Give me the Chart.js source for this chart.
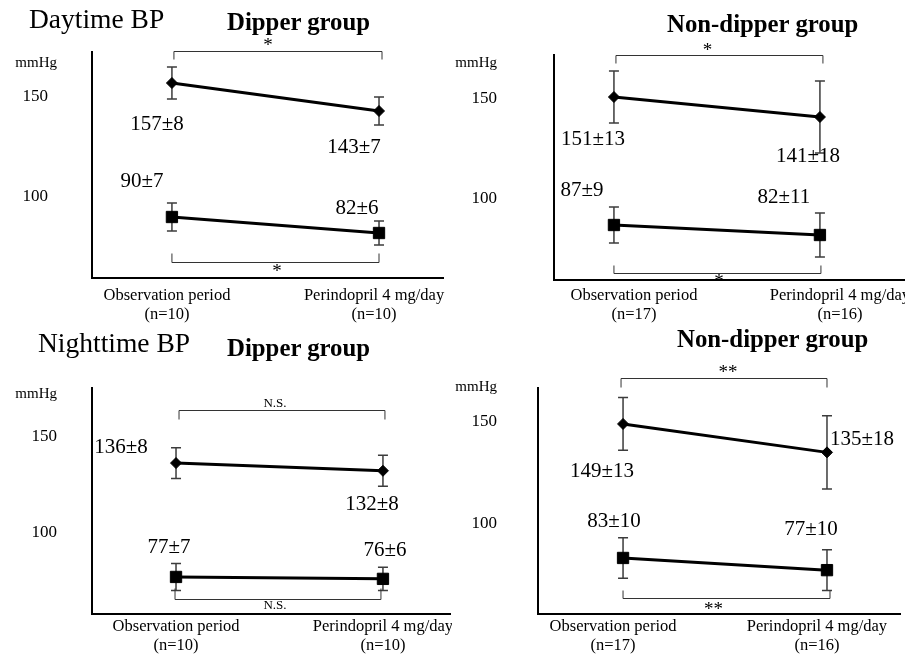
<!DOCTYPE html>
<html><head><meta charset="utf-8">
<script src="https://cdn.jsdelivr.net/npm/chart.js@4/dist/chart.umd.min.js"></script>
<style>
html,body{margin:0;padding:0;background:#fff;}
body{width:905px;height:656px;position:relative;overflow:hidden;font-family:"Liberation Serif","Times New Roman",serif;}
canvas{position:absolute;}
.t{position:absolute;white-space:nowrap;line-height:1;color:#000;}
.b{font-weight:bold;}
</style></head><body>
<canvas id="c1" width="452" height="330" style="left:0;top:0"></canvas>
<canvas id="c2" width="453" height="330" style="left:452px;top:0"></canvas>
<canvas id="c3" width="452" height="326" style="left:0;top:330px"></canvas>
<canvas id="c4" width="453" height="326" style="left:452px;top:330px"></canvas>
<div class="t" style="left:29px;top:5px;font-size:27.5px">Daytime BP</div>
<div class="t b" style="left:227px;top:10.2px;font-size:24.8px">Dipper group</div>
<div class="t b" style="left:667px;top:12.2px;font-size:24.8px">Non-dipper group</div>
<div class="t" style="left:38px;top:329px;font-size:27.5px">Nighttime BP</div>
<div class="t b" style="left:227px;top:336.2px;font-size:24.8px">Dipper group</div>
<div class="t b" style="left:677px;top:327.2px;font-size:24.8px">Non-dipper group</div>
<script>
// ---- data ----
const categories = ["Observation period", "Perindopril 4 mg/day"];
const nDipper = ["(n=10)", "(n=10)"];
const nNonDipper = ["(n=17)", "(n=16)"];
const yTicks = [100, 150];

const dipperDaySys = [157, 143];
const dipperDaySysSD = [8, 7];
const dipperDayDia = [90, 82];
const dipperDayDiaSD = [7, 6];

const nonDipperDaySys = [151, 141];
const nonDipperDaySysSD = [13, 18];
const nonDipperDayDia = [87, 82];
const nonDipperDayDiaSD = [9, 11];

const dipperNightSys = [136, 132];
const dipperNightSysSD = [8, 8];
const dipperNightDia = [77, 76];
const dipperNightDiaSD = [7, 6];

const nonDipperNightSys = [149, 135];
const nonDipperNightSysSD = [13, 18];
const nonDipperNightDia = [83, 77];
const nonDipperNightDiaSD = [10, 10];

// significance: [systolic, diastolic]
const sigDayDipper = ["*", "*"];
const sigDayNonDipper = ["*", "*"];
const sigNightDipper = ["N.S.", "N.S."];
const sigNightNonDipper = ["**", "**"];

// ---- layout / style (not data) ----
const FONT = "'Liberation Serif','Times New Roman',serif";
const panels = [
  {id:'c1', sys:dipperDaySys, sysSD:dipperDaySysSD, dia:dipperDayDia, diaSD:dipperDayDiaSD, n:nDipper, sig:sigDayDipper,
   L:{yWidth:92, top:52, right:9, xHeight:52, tickPad:44, xPad:8, xMin:-0.386, xMax:1.309, yMin:59.5, yMax:172.5, labelOffset:-5,
      mmHg:[57,62], sysLab:[[-15,40],[-25,35]], diaLab:[[-30,-37],[-22,-26]],
      topBr:{y:173, x0:2, x1:3, h:8, lx:-10, ly:-9}, botBr:{y:67.5, x0:0, x1:0, h:-9, lx:1.5, ly:6}}},
  {id:'c2', sys:nonDipperDaySys, sysSD:nonDipperDaySysSD, dia:nonDipperDayDia, diaSD:nonDipperDayDiaSD, n:nNonDipper, sig:sigDayNonDipper,
   L:{yWidth:102, top:55, right:0, xHeight:50, tickPad:57, xPad:6, xMin:-0.291, xMax:1.413, yMin:59.5, yMax:172, labelOffset:20,
      mmHg:[45,62], sysLab:[[-21,41],[-12,38]], diaLab:[[-32,-36],[-36,-39]],
      topBr:{y:172, x0:2, x1:3, h:8, lx:-12, ly:-8}, botBr:{y:63, x0:0, x1:1, h:-8, lx:1.5, ly:5}}},
  {id:'c3', sys:dipperNightSys, sysSD:dipperNightSysSD, dia:dipperNightDia, diaSD:dipperNightDiaSD, n:nDipper, sig:sigNightDipper,
   L:{yWidth:92, top:58, right:2, xHeight:42, tickPad:35, xPad:3, xMin:-0.406, xMax:1.324, yMin:57.8, yMax:174.9, labelOffset:0,
      mmHg:[57,63], sysLab:[[-55,-17],[-11,32]], diaLab:[[-7,-31],[2,-30]],
      topBr:{y:163.5, x0:3, x1:2, h:9, lx:-7, ly:-8}, botBr:{y:65.5, x0:-1, x1:-2, h:-11, lx:-3, ly:5}}},
  {id:'c4', sys:nonDipperNightSys, sysSD:nonDipperNightSysSD, dia:nonDipperNightDia, diaSD:nonDipperNightDiaSD, n:nNonDipper, sig:sigNightNonDipper,
   L:{yWidth:86, top:58, right:5, xHeight:42, tickPad:41, xPad:3, xMin:-0.417, xMax:1.358, yMin:55.4, yMax:166.7, labelOffset:-10,
      mmHg:[45,56], sysLab:[[-21,46],[35,-15]], diaLab:[[-9,-38],[-16,-42]],
      topBr:{y:171.7, x0:-2, x1:0, h:9, lx:4, ly:-9}, botBr:{y:63.3, x0:0, x1:3, h:-8, lx:-13, ly:8}}}
];

function textCentered(ctx, text, cx, cy, size, bold, glyphEm) {
  ctx.font = (bold ? 'bold ' : '') + size + 'px ' + FONT;
  ctx.textAlign = 'center';
  ctx.textBaseline = 'alphabetic';
  ctx.fillText(text, cx, cy + glyphEm * size);
}

function makeDecor(p) {
  const L = p.L;
  return {
    id: 'decor_' + p.id,
    beforeDatasetsDraw(chart) {
      const ctx = chart.ctx, ys = chart.scales.y;
      chart.data.datasets.forEach((ds, di) => {
        const meta = chart.getDatasetMeta(di);
        ds.sd.forEach((sd, i) => {
          const pt = meta.data[i];
          const v = ds.data[i].y;
          const yTop = ys.getPixelForValue(v + sd), yBot = ys.getPixelForValue(v - sd);
          ctx.save();
          ctx.strokeStyle = '#3c3c3c'; ctx.lineWidth = 1.5;
          ctx.beginPath();
          ctx.moveTo(pt.x, yTop); ctx.lineTo(pt.x, yBot);
          ctx.moveTo(pt.x - 5, yTop); ctx.lineTo(pt.x + 5, yTop);
          ctx.moveTo(pt.x - 5, yBot); ctx.lineTo(pt.x + 5, yBot);
          ctx.stroke();
          ctx.restore();
        });
      });
    },
    afterDraw(chart) {
      const ctx = chart.ctx, xs = chart.scales.x, ys = chart.scales.y;
      ctx.save();
      ctx.fillStyle = '#000';
      // unit
      ctx.font = '15px ' + FONT; ctx.textAlign = 'right'; ctx.textBaseline = 'alphabetic';
      ctx.fillText('mmHg', L.mmHg[0], L.mmHg[1] + 0.34 * 15);
      // value labels
      chart.data.datasets.forEach((ds, di) => {
        const meta = chart.getDatasetMeta(di);
        const offs = di === 0 ? L.sysLab : L.diaLab;
        ds.data.forEach((d, i) => {
          const pt = meta.data[i];
          textCentered(ctx, d.y + '\u00B1' + ds.sd[i], pt.x + offs[i][0], pt.y + offs[i][1], 21, false, 0.34);
        });
      });
      // significance brackets
      [[L.topBr, p.sig[0]], [L.botBr, p.sig[1]]].forEach(([b, lab]) => {
        const x0 = xs.getPixelForValue(0) + b.x0, x1 = xs.getPixelForValue(1) + b.x1;
        const y = Math.round(ys.getPixelForValue(b.y)) + 0.5;
        ctx.strokeStyle = '#333'; ctx.lineWidth = 1;
        ctx.beginPath();
        ctx.moveTo(x0, y + b.h); ctx.lineTo(x0, y); ctx.lineTo(x1, y); ctx.lineTo(x1, y + b.h);
        ctx.stroke();
        const cx = (x0 + x1) / 2 + b.lx, cy = y + b.ly;
        if (lab === 'N.S.') textCentered(ctx, lab, cx, cy, 13, false, 0.33);
        else textCentered(ctx, lab, cx, cy, 19, false, 0.47);
      });
      ctx.restore();
    }
  };
}

panels.forEach(p => {
  const L = p.L;
  const toPts = arr => arr.map((v, i) => ({x: i, y: v}));
  new Chart(document.getElementById(p.id), {
    type: 'line',
    data: {
      datasets: [
        {label: 'Systolic', data: toPts(p.sys), sd: p.sysSD, borderColor: '#000', borderWidth: 3, clip: false,
         pointStyle: 'rectRot', pointRadius: 5.5, pointBackgroundColor: '#000', pointBorderColor: '#000', pointBorderWidth: 1, tension: 0},
        {label: 'Diastolic', data: toPts(p.dia), sd: p.diaSD, borderColor: '#000', borderWidth: 3, clip: false,
         pointStyle: 'rect', pointRadius: 8, pointBackgroundColor: '#000', pointBorderColor: '#000', pointBorderWidth: 1, tension: 0}
      ]
    },
    options: {
      responsive: false, animation: false, devicePixelRatio: 1, events: [],
      layout: {autoPadding: false, padding: {left: 0, top: L.top, right: L.right, bottom: 0}},
      plugins: {legend: {display: false}, tooltip: {enabled: false}},
      scales: {
        x: {
          type: 'linear', min: L.xMin, max: L.xMax,
          grid: {display: false, drawTicks: false},
          border: {display: true, color: '#000', width: 2},
          afterBuildTicks: s => { s.ticks = [{value: 0}, {value: 1}]; },
          afterFit: s => { s.height = L.xHeight; s.paddingLeft = 0; s.paddingRight = 0; },
          ticks: {padding: L.xPad, labelOffset: L.labelOffset, color: '#000', autoSkip: false, maxRotation: 0, minRotation: 0,
                  font: {family: FONT, size: 16.5, lineHeight: 1.15},
                  callback: (v, i) => [categories[i], p.n[i]]}
        },
        y: {
          type: 'linear', min: L.yMin, max: L.yMax,
          grid: {display: false, drawTicks: false},
          border: {display: true, color: '#000', width: 2},
          afterBuildTicks: s => { s.ticks = yTicks.map(v => ({value: v})); },
          afterFit: s => { s.width = L.yWidth; s.paddingTop = 0; s.paddingBottom = 0; },
          ticks: {padding: L.tickPad, color: '#000', font: {family: FONT, size: 17}}
        }
      }
    },
    plugins: [makeDecor(p)]
  });
});
</script>
</body></html>
